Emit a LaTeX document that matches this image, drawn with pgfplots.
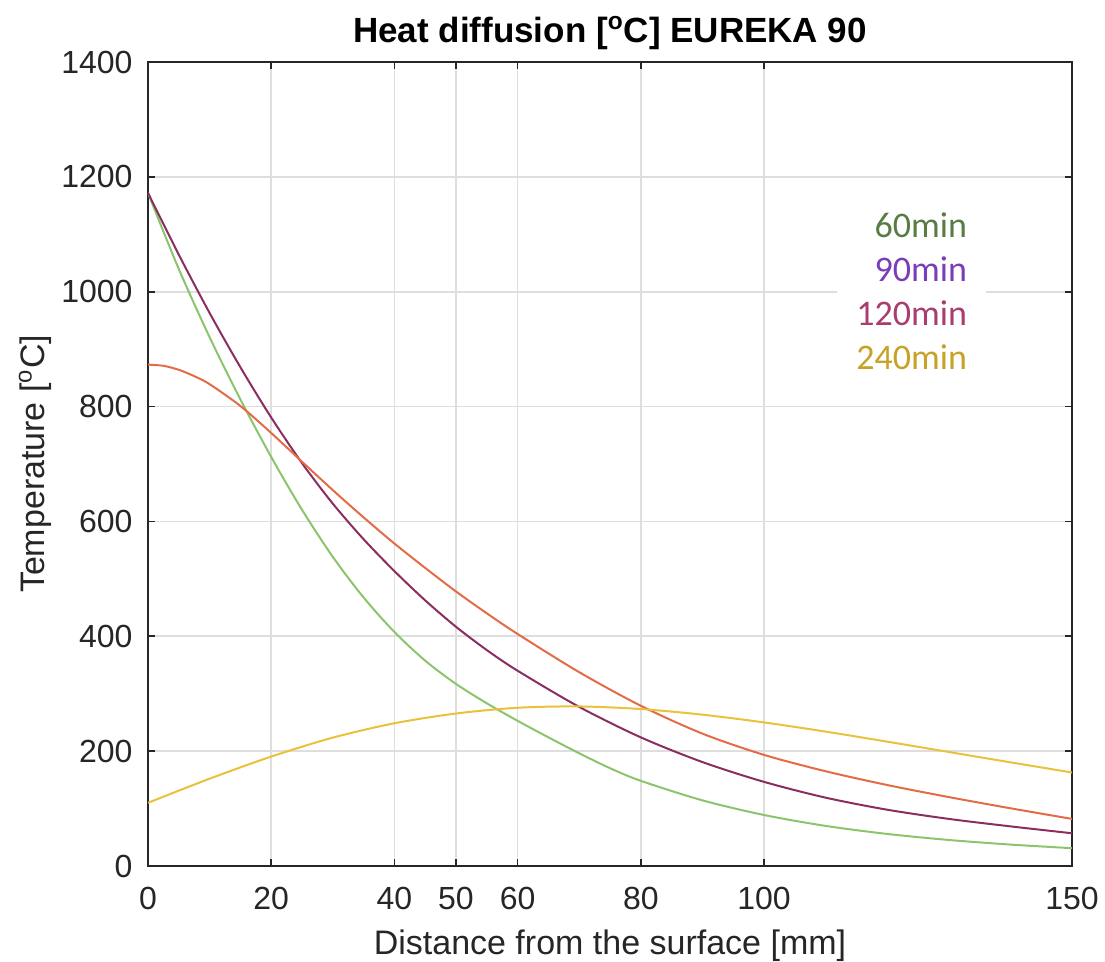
\documentclass[border=0pt]{standalone}
\usepackage{fontspec}
\setmainfont{Liberation Sans}
\newfontfamily\carlito{Carlito}
\usepackage{pgfplots}
\pgfplotsset{compat=1.18}
\definecolor{axcol}{HTML}{262626}
\definecolor{gridc}{HTML}{DEDEDE}
\definecolor{lgreen}{HTML}{8CC46E}
\definecolor{ldark}{HTML}{8B2D5F}
\definecolor{lorange}{HTML}{E36B46}
\definecolor{lyellow}{HTML}{E9C13A}
\definecolor{t60}{HTML}{587C44}
\definecolor{t90}{HTML}{7A3DB8}
\definecolor{t120}{HTML}{A93C70}
\definecolor{t240}{HTML}{C8A227}
\begin{document}
\begin{tikzpicture}
\begin{axis}[
  at={(0,0)}, anchor=south west,
  scale only axis, width=462pt, height=402pt,
  xmin=0, xmax=150, ymin=0, ymax=1400,
  xtick={0,20,40,50,60,80,100,150},
  ytick={0,200,...,1400},
  scaled ticks=false,
  /pgf/number format/assume math mode=true,
  /pgf/number format/set thousands separator={},
  tick align=inside, major tick length=3.5pt,
  tick style={axcol, line width=0.8pt},
  axis line style={axcol, line width=1pt},
  grid=major,
  major grid style={draw=gridc, line width=0.8pt},
  ticklabel style={font=\fontsize{16}{19}\selectfont, text=axcol},
  xticklabel style={yshift=-7pt},
  yticklabel style={xshift=-4.2pt},
  every axis title shift=0pt,
  title={Heat diffusion [\textsuperscript{o}C] EUREKA 90},
  title style={at={(axis description cs:0.5,1.036)}, anchor=center, yshift=0pt, font=\bfseries\fontsize{17.5}{20}\selectfont},
  xlabel={Distance from the surface [mm]},
  xlabel style={at={(axis description cs:0.5,-0.099)}, anchor=center, font=\fontsize{17}{20}\selectfont, text=axcol},
  ylabel={Temperature [\textsuperscript{o}C]},
  ylabel style={at={(axis description cs:-0.1223,0.5)}, anchor=center, font=\fontsize{17}{20}\selectfont, text=axcol},
  every axis plot/.append style={line width=1pt, smooth, no markers},
]
% 60 min
\addplot[lgreen] coordinates {
(0,1172) (5,1039.5) (10,920.8) (15,812.5) (20,712.3) (25,620.3) (30,538.3) (35,467.5) (40,407.5) (45,357.5) (50,317) (55,283.3) (60,252.8) (65,224) (70,196.3) (75,170.3) (80,148.3) (90,114.3) (100,88.8) (110,69.8) (120,55.8) (130,45.3) (140,37.3) (150,31)};
% 90 min
\addplot[ldark] coordinates {
(0,1172) (5,1064.5) (10,963) (15,868.5) (20,781) (25,701.5) (30,631) (35,569) (40,513.5) (45,462.5) (50,416.5) (55,376) (60,340) (70,277) (80,224) (90,181) (100,146.5) (110,119) (120,98) (130,82) (140,69) (150,57)};
% 120 min
\addplot[lorange] coordinates {
(0,873) (2.5,871) (5,864) (7.5,853) (10,839) (15,801) (20,754) (25,704) (30,654.5) (35,607) (40,561.5) (45,519) (50,478) (55,440) (60,404) (70,337.5) (80,279) (90,230.5) (100,193.5) (110,165) (120,141) (130,120) (140,100.5) (150,82)};
% 240 min
\addplot[lyellow] coordinates {
(0,110) (10,152) (20,190.5) (30,223.5) (40,248.5) (50,265.5) (60,275.5) (70,277.8) (80,273.3) (90,263.5) (100,250) (110,234) (120,216.5) (130,198.5) (140,180.5) (150,162.8)};
\node[anchor=east, fill=white, inner xsep=9.5pt, inner ysep=4pt, align=right,
      font=\carlito\fontsize{18}{22}\selectfont] at (axis cs:136.1,1001)
  {\textcolor{t60}{60min}\\\textcolor{t90}{90min}\\\textcolor{t120}{120min}\\\textcolor{t240}{240min}};
\end{axis}
\pgfresetboundingbox
\path (-74pt,-48pt) rectangle (478.5pt,433pt);
\end{tikzpicture}
\end{document}
